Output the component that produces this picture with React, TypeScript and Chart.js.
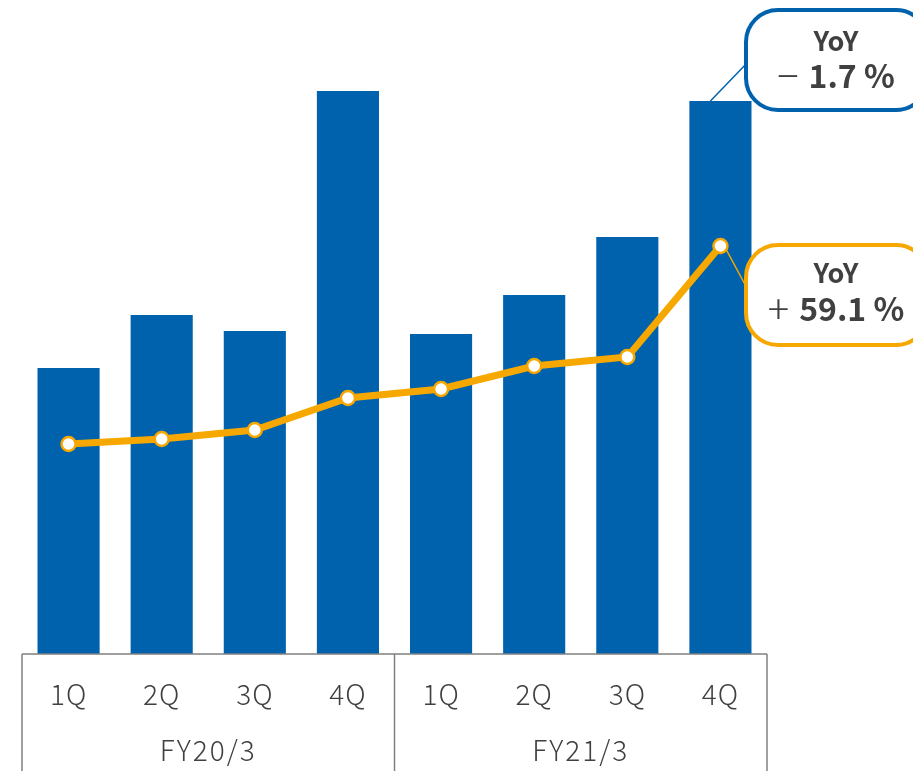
import React, { useEffect, useRef } from "react";
import { Chart, registerables } from "chart.js";

Chart.register(...registerables);

const quarters = ["1Q", "2Q", "3Q", "4Q", "1Q", "2Q", "3Q", "4Q"];
const fiscalYears = ["FY20/3", "FY21/3"];
const barValues = [286, 339, 323, 563, 320, 359, 417, 553];
const lineValues = [210, 215, 224, 256, 265, 288, 297, 408];
const barCallout = ["YoY", "−", "1.7 %"];
const lineCallout = ["YoY", "+", "59.1 %"];

const BLUE = "#0062AD";
const ORANGE = "#F7A800";
const TEXT = "#404040";
const AXIS = "#808080";
const FONT = "'Noto Sans CJK JP', 'Noto Sans', sans-serif";

function roundRect(ctx: CanvasRenderingContext2D, x: number, y: number, w: number, h: number, r: number) {
  ctx.beginPath();
  ctx.moveTo(x + r, y);
  ctx.lineTo(x + w - r, y);
  ctx.arcTo(x + w, y, x + w, y + r, r);
  ctx.lineTo(x + w, y + h - r);
  ctx.arcTo(x + w, y + h, x + w - r, y + h, r);
  ctx.lineTo(x + r, y + h);
  ctx.arcTo(x, y + h, x, y + h - r, r);
  ctx.lineTo(x, y + r);
  ctx.arcTo(x, y, x + r, y, r);
  ctx.closePath();
}

function drawCallout(
  ctx: CanvasRenderingContext2D,
  color: string,
  box: { x: number; y: number; w: number; h: number },
  from: { x: number; y: number },
  to: { x: number; y: number },
  texts: string[],
  cx: number,
  y1: number,
  y2: number
) {
  ctx.save();
  ctx.strokeStyle = color;
  ctx.lineWidth = 1.5;
  ctx.beginPath();
  ctx.moveTo(from.x, from.y);
  ctx.lineTo(to.x, to.y);
  ctx.stroke();
  roundRect(ctx, box.x, box.y, box.w, box.h, 32);
  ctx.fillStyle = "#fff";
  ctx.fill();
  ctx.lineWidth = 4;
  ctx.stroke();
  ctx.fillStyle = TEXT;
  ctx.textBaseline = "middle";
  ctx.textAlign = "center";
  ctx.font = `bold 27px ${FONT}`;
  ctx.fillText(texts[0], cx, y1);
  const signFont = `300 40px ${FONT}`;
  const valFont = `bold 32px ${FONT}`;
  ctx.font = signFont;
  const sw = ctx.measureText(texts[1]).width + 10;
  ctx.font = valFont;
  const vw = ctx.measureText(texts[2]).width;
  const start = cx - (sw + vw) / 2;
  ctx.textAlign = "left";
  ctx.font = signFont;
  ctx.fillText(texts[1], start, y2);
  ctx.font = valFont;
  ctx.fillText(texts[2], start + sw, y2);
  ctx.restore();
}

const overlayPlugin = {
  id: "overlay",
  afterDraw(chart: any) {
    const ctx: CanvasRenderingContext2D = chart.ctx;
    const area = chart.chartArea;
    const xs = chart.scales.x;
    const n = quarters.length;
    const step = (area.right - area.left) / n;
    const bottom = chart.height;
    ctx.save();
    ctx.strokeStyle = AXIS;
    ctx.lineWidth = 1.5;
    ctx.beginPath();
    ctx.moveTo(area.left, area.bottom);
    ctx.lineTo(area.right, area.bottom);
    const groupSize = n / fiscalYears.length;
    for (let g = 0; g <= fiscalYears.length; g++) {
      const x = area.left + g * groupSize * step;
      ctx.moveTo(x, area.bottom);
      ctx.lineTo(x, bottom);
    }
    ctx.stroke();
    ctx.fillStyle = TEXT;
    ctx.textAlign = "center";
    ctx.textBaseline = "middle";
    ctx.font = `300 28px ${FONT}`;
    (ctx as any).letterSpacing = "1px";
    quarters.forEach((q, i) => {
      ctx.fillText(q, xs.getPixelForValue(i), area.bottom + 40);
    });
    (ctx as any).letterSpacing = "2px";
    fiscalYears.forEach((fy, g) => {
      const x = area.left + (g + 0.5) * groupSize * step;
      ctx.fillText(fy, x, area.bottom + 96);
    });
    (ctx as any).letterSpacing = "0px";
    ctx.restore();

    const barEl = chart.getDatasetMeta(1).data[n - 1];
    const ptEl = chart.getDatasetMeta(0).data[n - 1];
    drawCallout(
      ctx,
      BLUE,
      { x: 746, y: 10, w: 182, h: 100 },
      { x: barEl.x - 10, y: barEl.y },
      { x: 748, y: 62 },
      barCallout,
      836,
      41,
      76
    );
    drawCallout(
      ctx,
      ORANGE,
      { x: 746, y: 245, w: 182, h: 100 },
      { x: ptEl.x + 6, y: ptEl.y + 4 },
      { x: 748, y: 290 },
      lineCallout,
      836,
      273,
      309
    );
  },
};

export default function App() {
  const ref = useRef<HTMLCanvasElement | null>(null);
  useEffect(() => {
    if (!ref.current) return;
    const chart = new Chart(ref.current, {
      type: "bar",
      data: {
        labels: quarters,
        datasets: [
          {
            type: "line",
            data: lineValues,
            borderColor: ORANGE,
            borderWidth: 7,
            pointRadius: 7,
            pointBackgroundColor: "#fff",
            pointBorderColor: ORANGE,
            pointBorderWidth: 2.5,
            tension: 0,
            order: 0,
          } as any,
          {
            type: "bar",
            data: barValues,
            backgroundColor: BLUE,
            categoryPercentage: 1,
            barPercentage: 0.667,
            order: 1,
          },
        ],
      },
      options: {
        responsive: false,
        animation: false,
        layout: { autoPadding: false, padding: { left: 22, right: 146, top: 0, bottom: 117 } },
        plugins: { legend: { display: false }, tooltip: { enabled: false } },
        scales: {
          x: { display: false },
          y: { display: false, min: 0, max: 654 },
        },
      },
      plugins: [overlayPlugin],
    });
    return () => chart.destroy();
  }, []);
  return (
    <div style={{ position: "fixed", left: 0, top: 0, width: 913, height: 771, background: "#fff" }}>
      <canvas ref={ref} width={913} height={771} style={{ display: "block" }} />
    </div>
  );
}
